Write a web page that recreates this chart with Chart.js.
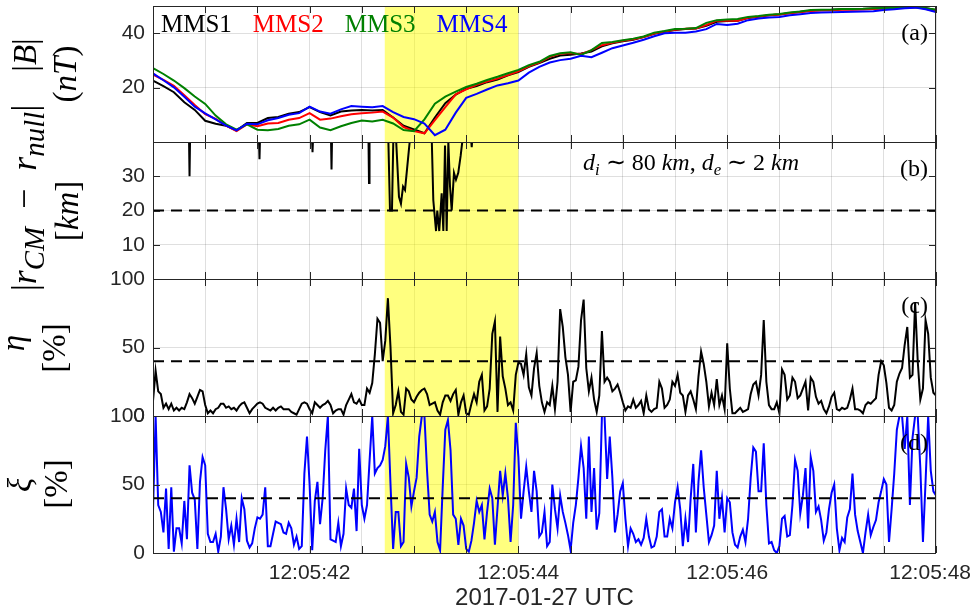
<!DOCTYPE html>
<html>
<head>
<meta charset="utf-8">
<script src="https://cdn.jsdelivr.net/npm/chart.js@4.4.0/dist/chart.umd.min.js"></script>
<style>
  html, body { margin: 0; padding: 0; background: #fff; }
  #wrap { position: relative; width: 973px; height: 616px; }
  #wrap canvas { position: absolute; left: 0; top: 0; }
</style>
</head>
<body>
<div id="wrap">
  <canvas id="pa" width="973" height="616"></canvas>
  <canvas id="pb" width="973" height="616"></canvas>
  <canvas id="pc" width="973" height="616"></canvas>
  <canvas id="pd" width="973" height="616"></canvas>
</div>
<script>
// --- data (time in seconds after 12:05:00 UTC) ---
const T0 = 40.5, T1 = 48.0;
const highlight = [42.72, 44.0];   // yellow interval
const xLabelTicks = [42, 44, 46, 48];

// (a) |B| in nT, one sample every 0.1 s
const bDt = 0.1;
const seriesNames = ['MMS1', 'MMS2', 'MMS3', 'MMS4'];
const seriesColors = ['#000000', '#ff0000', '#008000', '#0000ff'];
const bMMS1 = [22.6,20.5,18.3,14.6,11.8,7.8,6.7,6.0,4.2,7.0,
  7.0,8.8,9.2,10.4,11.0,12.8,11.0,9.8,11.2,11.6,
  11.8,11.6,11.8,9.0,6.0,4.6,3.2,9.0,14.3,17.4,
  19.6,20.6,22.0,23.0,24.5,25.7,27.6,29.0,30.6,31.8,
  32.1,32.5,33.3,35.2,36.3,37.0,37.6,38.6,39.8,40.5,
  41.2,41.5,41.7,42.7,44.2,44.5,44.6,45.6,46.0,46.6,
  46.9,47.4,47.9,48.3,48.5,48.6,48.8,48.8,48.9,49.1,
  49.2,49.3,49.5,49.6,49.3,48.5];
const bMMS2 = [24.8,22.8,20.7,17.2,13.6,10.2,8.5,6.0,4.0,6.5,
  5.8,6.8,7.0,8.2,8.8,10.6,8.2,8.6,9.5,10.2,
  10.6,10.8,11.2,9.0,5.5,4.0,3.2,8.0,12.8,17.5,
  19.4,21.0,22.2,23.3,24.6,26.0,27.8,29.2,31.3,32.4,
  32.7,32.3,33.8,35.6,36.5,37.2,37.8,38.6,39.9,40.6,
  41.3,41.6,41.7,43.0,44.6,44.7,44.6,45.7,46.1,46.6,
  46.9,47.3,47.7,48.2,48.3,48.4,48.6,48.6,48.7,48.9,
  49.0,49.2,49.4,49.6,49.0,48.0];
const bMMS3 = [27.2,25.0,22.6,19.8,16.7,14.0,9.7,6.5,4.5,6.5,
  4.5,4.3,4.8,6.0,6.5,8.2,5.3,4.3,5.8,7.0,
  7.9,7.5,8.2,6.8,4.4,4.0,8.3,14.1,16.7,18.5,
  20.2,21.4,22.8,24.0,25.3,26.5,28.2,29.5,31.6,32.6,
  33.0,32.0,33.8,36.4,36.8,37.4,38.0,38.8,40.2,40.8,
  41.5,41.6,41.9,43.8,44.8,45.0,45.2,46.0,46.3,46.8,
  47.1,47.6,48.0,48.5,48.6,48.7,48.9,48.9,49.0,49.2,
  49.3,49.3,49.5,49.5,49.2,48.6];
const bMMS4 = [25.2,22.7,20.1,16.6,13.0,10.5,8.3,6.0,4.3,6.7,
  6.5,8.0,8.8,10.0,10.6,13.0,11.2,10.4,12.0,13.2,
  13.0,12.8,13.2,11.0,9.2,8.4,6.8,2.5,4.5,10.8,
  16.2,17.7,19.3,20.8,21.6,22.6,25.5,27.6,29.2,30.1,
  30.6,31.7,31.2,32.8,34.5,35.5,36.5,37.6,38.9,40.0,
  40.2,40.2,40.6,41.5,43.4,43.0,43.5,44.8,45.4,45.8,
  46.0,46.6,47.0,47.4,47.6,47.7,47.8,47.9,48.0,48.1,
  48.5,48.8,49.2,49.4,48.8,47.8];

// (b) |r_CM - r_null| in km (null = gap, values above 40 run off the top)
const distTime = [40.845,40.850,40.855,40.86,
  41.515,41.520,41.525,41.53,
  42.023,42.028,42.033,42.04,
  42.205,42.210,42.215,42.22,
  42.564,42.569,42.574,42.58,
  42.754,42.770,42.789,42.802,42.828,42.856,42.875,42.895,42.914,42.933,42.952,42.962,42.97,
  43.170,43.185,43.211,43.223,43.242,43.265,43.281,43.297,43.313,43.329,43.345,43.361,43.383,43.402,43.424,43.447,43.466,43.47,
  43.546,43.553,43.558];
const distVal = [41,30,41,null,
  41,35,41,null,
  41,37,41,null,
  41,32,41,null,
  41,28,41,null,
  41,20,20,41,41,24,22,27,26,32,38,41,null,
  41,23,14,20,14,25,14,39,14,40,27,20,31,29,31,36,41,null,
  41,38.5,41];
const distThreshold = 20;

// (c) eta and (d) xi in %, one sample every 0.025 s
const ratioDt = 0.025;
const eta = [11,33,18,16,6,9,5,9,4,6,
  4,6,5,10,16,13,9,14,19,18,
  8,2,4,2,5,6,9,9,6,7,
  5,6,4,7,9,10,6,2,5,7,
  9,10,9,6,5,4,6,4,6,7,
  5,5,5,3,2,1,5,9,10,9,
  5,2,10,8,6,8,9,11,8,2,
  4,5,5,1,8,12,16,10,9,12,
  8,8,20,17,24,45,71,68,40,55,
  86,50,2,8,18,3,1,20,18,12,
  10,14,17,19,20,16,8,9,10,4,
  1,10,15,15,11,16,19,1,10,15,
  2,1,9,16,10,25,30,4,7,20,
  60,69,3,58,29,20,8,10,4,30,
  39,38,30,45,21,15,35,46,22,10,
  3,10,8,22,5,25,78,65,43,30,
  3,25,26,36,70,85,35,18,28,12,
  3,15,62,25,28,25,18,20,23,17,
  10,4,7,6,12,6,8,11,2,15,
  5,3,5,6,25,20,6,8,12,25,
  22,30,17,15,3,15,18,12,5,29,
  47,38,25,7,17,8,27,8,15,5,
  53,20,2,2,4,6,3,4,5,16,
  23,25,15,30,70,25,8,5,5,10,
  2,34,30,12,15,28,25,13,15,20,
  25,4,28,25,14,9,11,5,2,7,
  14,17,5,4,6,5,6,12,20,5,
  5,4,2,8,10,9,11,13,30,40,
  37,24,6,4,8,25,31,35,52,65,
  28,30,83,40,12,20,70,60,28,17,
  15];
const xi = [30,100,35,30,15,47,3,48,1,18,
  18,7,38,10,64,44,39,3,52,70,
  64,14,8,8,14,1,12,48,32,10,
  20,6,25,8,40,32,9,4,7,18,
  26,25,28,48,5,5,14,23,22,21,
  15,14,22,18,6,12,3,5,58,85,
  50,2,38,52,21,40,75,100,10,9,
  8,22,5,14,47,35,33,47,16,76,
  35,25,35,68,100,58,62,64,68,78,
  100,50,3,30,30,5,8,65,55,34,
  45,55,85,100,100,60,28,23,30,8,
  2,48,90,97,75,28,25,6,25,20,
  3,1,9,22,38,30,35,10,30,47,
  40,6,33,60,42,58,40,8,35,95,
  70,25,45,63,45,30,60,45,12,15,
  30,5,8,50,32,18,42,30,22,13,
  2,22,35,55,78,62,25,85,30,62,
  17,29,100,100,54,85,55,15,28,45,
  51,25,5,18,14,8,10,6,11,25,
  12,4,5,12,30,32,12,12,25,18,
  37,48,32,5,25,8,40,65,15,52,
  75,48,28,8,13,20,60,25,40,15,
  40,37,15,6,4,12,17,8,25,55,
  77,74,45,45,80,35,7,8,2,0,
  5,25,27,12,13,35,68,60,29,42,
  62,18,70,60,30,34,24,9,15,32,
  44,50,18,2,11,8,26,32,58,28,
  16,8,0,15,28,13,19,24,37,45,
  54,50,8,32,58,90,100,100,76,100,
  35,84,100,100,62,8,52,100,60,45,
  42];
const ratioThreshold = 40;

// y ticks per panel
const yTicksA = [20, 40];
const yTicksB = [10, 20, 30];
const yTicksC = [0, 50, 100];
const yTicksD = [0, 50, 100];

// --- look ---
const SANS = '"Liberation Sans", Arial, sans-serif';
const SERIF = '"Liberation Serif", "Times New Roman", serif';
const AXIS = '#262626';
const GRID = 'rgba(38,38,38,0.15)';
const PLOT_L = 153, PLOT_R = 936, TICK = 7;

// little rich-text helper for the math style labels
const R = t => ({ t });
const I = t => ({ t, it: true });
const S = t => ({ t, it: true, sub: true });

function segFont(seg, size, subScale) {
  const s = seg.sub ? size * subScale : size;
  return (seg.it ? 'italic ' : '') + s.toFixed(1) + 'px ' + SERIF;
}
function richWidth(ctx, segs, size, subScale) {
  let w = 0;
  segs.forEach(s => { ctx.font = segFont(s, size, subScale); w += ctx.measureText(s.t).width; });
  return w;
}
function drawRich(ctx, segs, x, y, size, center, subScale = 0.7) {
  let cx = center ? x - richWidth(ctx, segs, size, subScale) / 2 : x;
  ctx.textAlign = 'left';
  ctx.textBaseline = 'alphabetic';
  segs.forEach(s => {
    ctx.font = segFont(s, size, subScale);
    ctx.fillText(s.t, cx, y + (s.sub ? size * 0.22 : 0));
    cx += ctx.measureText(s.t).width;
  });
}

const panelDecor = {
  pa: { tag: '(a)', legend: true,
        ylab: [{ segs: [R('|'), I('B'), R('|')], bx: 36, cy: 55, size: 33 },
               { segs: [R('('), I('nT'), R(')')], bx: 76, cy: 74, size: 33 }] },
  pb: { tag: '(b)',
        ylab: [{ segs: [R('|'), I('r'), S('CM'), R('\u2002−\u2002'), I('r'), S('null'), R('|')], bx: 36, cy: 198, size: 36, sub: 0.8 },
               { segs: [R('['), I('km'), R(']')], bx: 78, cy: 211, size: 33 }],
        note: { segs: [I('d'), S('i'), R(' ∼ 80 '), I('km'), R(', '), I('d'), S('e'), R(' ∼ 2 '), I('km')], x: 583, y: 170 } },
  pc: { tag: '(c)',
        ylab: [{ segs: [I('η')], bx: 24, cy: 343, size: 33 },
               { segs: [R('[%]')], bx: 65, cy: 348, size: 33 }] },
  pd: { tag: '(d)', xLabels: true,
        ylab: [{ segs: [I('ξ')], bx: 31, cy: 485, size: 33 },
               { segs: [R('[%]')], bx: 67, cy: 484, size: 33 }] }
};

const decor = {
  id: 'decor',
  beforeDatasetsDraw(chart) {
    const { ctx, chartArea: a, scales: { x } } = chart;
    const x0 = x.getPixelForValue(highlight[0]);
    const x1 = x.getPixelForValue(highlight[1]);
    ctx.save();
    ctx.fillStyle = 'rgba(255,255,0,0.5)';
    ctx.fillRect(x0, a.top, x1 - x0, a.bottom - a.top);
    ctx.restore();
  },
  afterDatasetsDraw(chart) {
    const { ctx, chartArea: a, scales: { x, y } } = chart;
    ctx.save();
    ctx.strokeStyle = AXIS;
    ctx.lineWidth = 1;
    ctx.beginPath();
    x.ticks.forEach(t => {
      const px = Math.round(x.getPixelForValue(t.value)) + 0.5;
      ctx.moveTo(px, a.top); ctx.lineTo(px, a.top + TICK);
      ctx.moveTo(px, a.bottom); ctx.lineTo(px, a.bottom - TICK);
    });
    y.ticks.forEach(t => {
      const py = Math.round(y.getPixelForValue(t.value)) + 0.5;
      ctx.moveTo(a.left, py); ctx.lineTo(a.left + TICK, py);
      ctx.moveTo(a.right, py); ctx.lineTo(a.right - TICK, py);
    });
    ctx.stroke();
    ctx.strokeRect(a.left + 0.5, a.top + 0.5, a.right - a.left - 1, a.bottom - a.top);
    ctx.restore();
  },
  afterDraw(chart) {
    const d = panelDecor[chart.canvas.id];
    const { ctx, chartArea: a, scales: { x } } = chart;
    ctx.save();
    ctx.fillStyle = '#000';
    // panel tag
    ctx.font = '24px ' + SERIF;
    ctx.textAlign = 'right';
    ctx.textBaseline = 'alphabetic';
    ctx.fillText(d.tag, a.right - 8, a.top + 34);
    // y labels, rotated
    d.ylab.forEach(l => {
      ctx.save();
      ctx.translate(l.bx, l.cy);
      ctx.rotate(-Math.PI / 2);
      drawRich(ctx, l.segs, 0, 0, l.size, true, l.sub || 0.7);
      ctx.restore();
    });
    if (d.note) drawRich(ctx, d.note.segs, d.note.x, d.note.y, 24, false);
    if (d.legend) {
      ctx.font = '25px ' + SERIF;
      ctx.textAlign = 'left';
      let lx = 161;
      seriesNames.forEach((n, k) => {
        ctx.fillStyle = seriesColors[k];
        ctx.fillText(n, lx, 32);
        lx += ctx.measureText(n).width + 21;
      });
    }
    // time labels under the bottom panel, kept inside the page
    if (d.xLabels) {
      ctx.font = '21px ' + SANS;
      ctx.fillStyle = AXIS;
      ctx.textAlign = 'center';
      ctx.textBaseline = 'top';
      xLabelTicks.forEach(v => {
        const txt = '12:05:' + v;
        const w = ctx.measureText(txt).width;
        const px = Math.min(x.getPixelForValue(v), 971 - w / 2);
        ctx.fillText(txt, px, a.bottom + 10);
      });
    }
    ctx.restore();
  }
};

function hline(val) {
  return { data: [{ x: T0, y: val }, { x: T1, y: val }], borderColor: '#000', borderWidth: 2,
           borderDash: [11, 7], order: -1 };
}

function makePanel(id, top, bottom, datasets, yMin, yMax, yTicks, showX) {
  return new Chart(document.getElementById(id), {
    type: 'line',
    data: { datasets },
    options: {
      responsive: false,
      animation: false,
      devicePixelRatio: 1,
      layout: { padding: { left: 0, right: 973 - PLOT_R, top: top, bottom: showX ? 0 : 616 - bottom } },
      elements: { point: { radius: 0 }, line: { tension: 0, borderWidth: 2 } },
      plugins: { legend: { display: false }, tooltip: { enabled: false } },
      scales: {
        x: {
          type: 'linear', min: T0, max: T1, offset: false,
          ticks: { display: false, stepSize: 0.5, autoSkip: false, maxRotation: 0 },
          grid: { color: GRID, drawTicks: false },
          border: { display: false },
          title: { display: showX, text: '2017-01-27 UTC', color: AXIS,
                   font: { family: SANS, size: 24 }, padding: { top: 0, bottom: 3 } },
          afterFit: s => { s.height = showX ? 616 - bottom : 0; s.paddingLeft = 0; s.paddingRight = 0; }
        },
        y: {
          min: yMin, max: yMax,
          afterBuildTicks: s => { s.ticks = yTicks.map(v => ({ value: v })); },
          ticks: { padding: 8, color: AXIS, font: { family: SANS, size: 21 } },
          grid: { color: GRID, drawTicks: false },
          border: { display: false },
          afterFit: s => { s.width = PLOT_L; s.paddingTop = 0; s.paddingBottom = 0; }
        }
      }
    },
    plugins: [decor]
  });
}

// (a)
const tB = bMMS1.map((_, i) => T0 + i * bDt);
const dsA = [bMMS1, bMMS2, bMMS3, bMMS4].map((vals, k) => ({
  label: seriesNames[k],
  data: vals.map((v, i) => ({ x: tB[i], y: v })),
  borderColor: seriesColors[k],
  order: 3 - k
}));
makePanel('pa', 6, 142, dsA, 0, 50, yTicksA, false);

// (b)
const dsB = [
  { data: distTime.map((t, i) => ({ x: t, y: distVal[i] })), borderColor: '#000', spanGaps: false },
  hline(distThreshold)
];
makePanel('pb', 142, 279, dsB, 0, 40, yTicksB, false);

// (c)
const tR = eta.map((_, i) => T0 + i * ratioDt);
const dsC = [
  { data: eta.map((v, i) => ({ x: tR[i], y: v })), borderColor: '#000' },
  hline(ratioThreshold)
];
makePanel('pc', 279, 416, dsC, 0, 100, yTicksC, false);

// (d)
const dsD = [
  { data: xi.map((v, i) => ({ x: tR[i], y: v })), borderColor: '#0000ff' },
  hline(ratioThreshold)
];
makePanel('pd', 416, 553, dsD, 0, 100, yTicksD, true);
</script>
</body>
</html>
